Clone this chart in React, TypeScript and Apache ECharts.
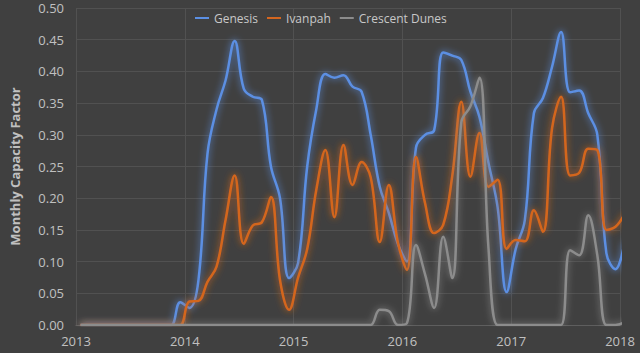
import React, { useEffect, useRef } from "react";
import * as echarts from "echarts";

// Monthly values, Jan 2013 .. Jan 2018 (61 months)
const months: string[] = [];
for (let y = 2013; y <= 2017; y++) for (let m = 1; m <= 12; m++) months.push(`${y}-${String(m).padStart(2, "0")}`);
months.push("2018-01");

const genesis = [
  0, 0, 0, 0, 0, 0, 0, 0, 0, 0, 0, 0.036,
  0.027, 0.07, 0.27, 0.34, 0.386, 0.448, 0.373, 0.36, 0.355, 0.25, 0.2, 0.074,
  0.098, 0.25, 0.34, 0.396, 0.39, 0.394, 0.376, 0.368, 0.3, 0.218, 0.177, 0.128,
  0.1, 0.28, 0.3, 0.307, 0.43, 0.425, 0.418, 0.368, 0.328, 0.255, 0.186, 0.052,
  0.12, 0.165, 0.334, 0.358, 0.407, 0.462, 0.367, 0.37, 0.334, 0.3, 0.113, 0.088,
  0.13,
];
const ivanpah = [
  0, 0, 0, 0, 0, 0, 0, 0, 0, 0, 0, 0,
  0.037, 0.038, 0.068, 0.092, 0.166, 0.236, 0.128, 0.157, 0.162, 0.202, 0.071, 0.024,
  0.075, 0.12, 0.213, 0.276, 0.17, 0.284, 0.221, 0.257, 0.233, 0.131, 0.221, 0.13,
  0.087, 0.265, 0.192, 0.145, 0.158, 0.235, 0.352, 0.234, 0.303, 0.218, 0.229, 0.12,
  0.134, 0.132, 0.181, 0.147, 0.31, 0.36, 0.236, 0.24, 0.278, 0.276, 0.15, 0.155,
  0.175,
];
const crescentDunes = [
  0, 0, 0, 0, 0, 0, 0, 0, 0, 0, 0, 0,
  0, 0, 0, 0, 0, 0, 0, 0, 0, 0, 0, 0,
  0, 0, 0, 0, 0, 0, 0, 0, 0, 0.024, 0.022, 0,
  0.003, 0.126, 0.08, 0.027, 0.139, 0.074, 0.32, 0.345, 0.39, 0.12, 0, 0,
  0, 0, 0, 0, 0, 0, 0.118, 0.11, 0.173, 0.11, 0, 0,
  0.004,
];

const seriesNames = ["Genesis", "Ivanpah", "Crescent Dunes"];
const seriesColors = ["#5b8fe3", "#d4661f", "#8c8c8c"];
const seriesData = [genesis, ivanpah, crescentDunes];

// position each month at mid-month on a fractional-year axis
const xOf = (s: string) => {
  const [y, m] = s.split("-").map(Number);
  return y + (m - 0.5) / 12;
};

export default function App() {
  const ref = useRef<HTMLDivElement>(null);
  useEffect(() => {
    if (!ref.current) return;
    const chart = echarts.init(ref.current, null, { renderer: "svg" });
    const font = "'Open Sans', 'Noto Sans', sans-serif";
    chart.setOption({
      animation: false,
      backgroundColor: "#404040",
      textStyle: { fontFamily: font },
      legend: {
        top: 7,
        left: 190,
        icon: "rect",
        itemWidth: 14,
        itemHeight: 2,
        itemGap: 9,
        textStyle: { color: "#c8c8c8", fontSize: 12, fontFamily: font },
        data: seriesNames,
      },
      grid: { left: 71, right: 20, top: 8, bottom: 28, containLabel: false },
      xAxis: {
        type: "value",
        min: 2013,
        max: 2018,
        interval: 1,
        axisLine: { show: true, lineStyle: { color: "#5e5e5e" } },
        axisTick: { show: false },
        splitLine: { show: true, lineStyle: { color: "#515151", width: 1 } },
        axisLabel: { color: "#c0c0c0", fontSize: 13, margin: 9, formatter: (v: number) => String(v) },
      },
      yAxis: {
        type: "value",
        min: 0,
        max: 0.5,
        interval: 0.05,
        name: "Monthly Capacity Factor",
        nameLocation: "middle",
        nameGap: 55,
        nameTextStyle: { color: "#c0c0c0", fontSize: 13, fontWeight: "bold", fontFamily: font },
        axisLine: { show: false },
        axisTick: { show: false },
        splitLine: { show: true, lineStyle: { color: "#515151", width: 1 } },
        axisLabel: { color: "#c0c0c0", fontSize: 13, margin: 12, formatter: (v: number) => v.toFixed(2) },
      },
      series: seriesNames.map((name, i) => ({
        name,
        type: "line",
        smooth: 0.4,
        symbol: "none",
        showSymbol: false,
        clip: true,
        color: seriesColors[i],
        lineStyle: {
          width: 2.5,
          color: seriesColors[i],
          shadowBlur: 7,
          shadowColor: seriesColors[i],
        },
        data: months.map((m, k) => [xOf(m), seriesData[i][k]]),
      })),
    });
    return () => chart.dispose();
  }, []);
  return (
    <div
      ref={ref}
      style={{ position: "fixed", left: 0, top: 0, width: 640, height: 353 }}
    />
  );
}
